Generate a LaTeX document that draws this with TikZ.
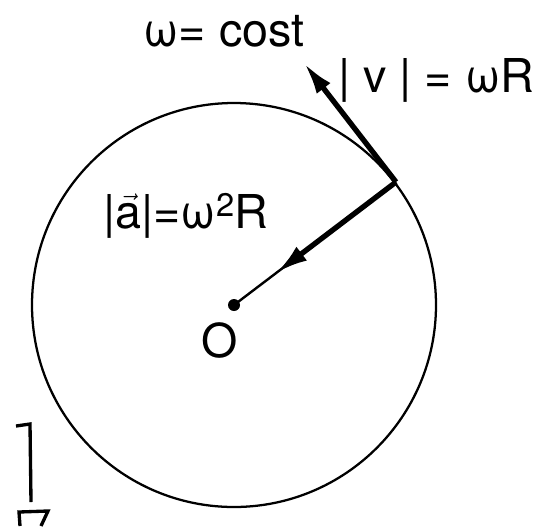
\documentclass[tikz,border=0pt]{standalone}
\usepackage{amsmath}
\usepackage{fontspec}
\setmainfont{TeX Gyre Heros}
\usetikzlibrary{arrows.meta,calc}

\begin{document}
\begin{tikzpicture}[
    x=0.75pt, y=-0.75pt,
    vecarr/.style={-{Latex[length=24pt,width=13pt]}, line width=4pt},
    thinline/.style={line width=1.8pt},
    lbl/.style={font=\fontsize{35}{40}\selectfont, inner sep=0pt},
  ]
  \useasboundingbox (0,0) rectangle (535,526);

  % Circle and centre
  \coordinate (O) at (234,305);
  \draw[line width=1.7pt] (O) circle[radius=202];
  \fill (O) circle[radius=6];

  % Point on the circle and vector tips
  \coordinate (P) at (396,182);
  \coordinate (V) at (304,63);
  \coordinate (A) at ($(P)!0.74!(O)$);

  % Velocity and acceleration
  \draw[thinline] (P) -- (O);
  \draw[vecarr] (P) -- (V);
  \draw[vecarr] (P) -- (A);

  % Labels
  \node[lbl] (omega) at (224,31) {ω= cost};
  \node[lbl, anchor=west] (vlab) at (338,80) {| v | = ωR};
  \node[lbl, anchor=west] (alab) at (103,216) {|$\vec{\text{a}}$|=ω\textsuperscript{2}R};
  \node[lbl] (olab) at (220,340) {O};

  % Marks at the lower left
  \draw[line width=2.5pt] (16,426) -- (30,424) -- (31,502);
  \draw[line width=2.5pt] (20,526) -- (19,512) -- (48,511) -- (41,526);
\end{tikzpicture}
\end{document}
